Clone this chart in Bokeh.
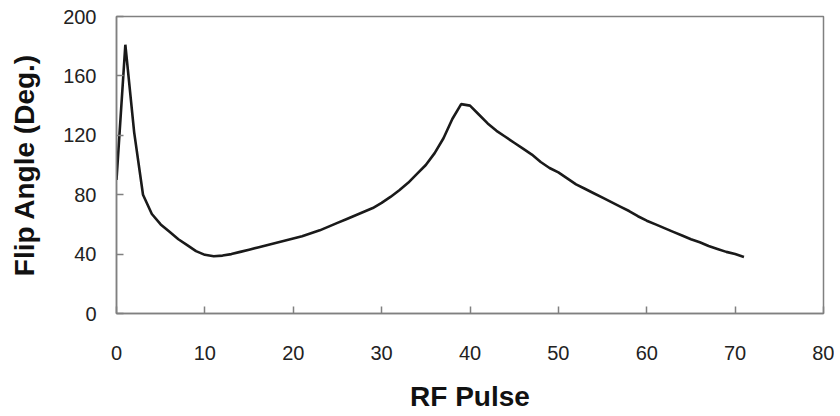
from bokeh.plotting import figure
from bokeh.models import Range1d, FixedTicker
from bokeh.embed import file_html
from bokeh.resources import INLINE

# RF pulse number
pulse = list(range(0, 72))
# Flip angle in degrees
flip_angle = [
    90, 181, 122, 80, 67, 60, 55, 50, 46, 42,
    39.5, 38.5, 39, 40, 41.5, 43, 44.5, 46, 47.5, 49,
    50.5, 52, 54, 56, 58.5, 61, 63.5, 66, 68.5, 71,
    74.5, 78.5, 83, 88, 94, 100, 108, 118, 131, 141,
    140, 134, 128, 123, 119, 115, 111, 107, 102, 98,
    95, 91, 87, 84, 81, 78, 75, 72, 69, 65.5,
    62.5, 60, 57.5, 55, 52.5, 50, 48, 45.5, 43.5, 41.5,
    40, 38,
]
x_ticks = [0, 10, 20, 30, 40, 50, 60, 70, 80]
y_ticks = [0, 40, 80, 120, 160, 200]

p = figure(width=834, height=415, output_backend="svg", toolbar_location=None,
           x_range=Range1d(0, 80), y_range=Range1d(0, 200),
           min_border_left=116, min_border_right=11, min_border_top=16,
           min_border_bottom=102)

p.line(pulse, flip_angle, line_color="#1a1a1a", line_width=2.6)

p.xgrid.visible = False
p.ygrid.visible = False
p.outline_line_color = "#808080"
p.outline_line_width = 1.5
p.background_fill_color = "white"
p.border_fill_color = "white"

for ax in (p.xaxis[0], p.yaxis[0]):
    ax.axis_line_color = "#808080"
    ax.axis_line_width = 1.5
    ax.major_tick_line_color = "#808080"
    ax.major_tick_line_width = 1.5
    ax.major_tick_out = 0
    ax.major_tick_in = 7
    ax.minor_tick_line_color = None
    ax.major_label_text_font = "Liberation Sans"
    ax.major_label_text_font_size = "20px"
    ax.major_label_text_color = "#222222"
    ax.axis_label_text_font = "Liberation Sans"
    ax.axis_label_text_font_size = "28px"
    ax.axis_label_text_font_style = "bold"
    ax.axis_label_text_color = "#111111"

p.xaxis.ticker = FixedTicker(ticks=x_ticks)
p.yaxis.ticker = FixedTicker(ticks=y_ticks)
p.xaxis.axis_label = "RF Pulse"
p.yaxis.axis_label = "Flip Angle (Deg.)"
p.xaxis.major_label_standoff = 32
p.xaxis.axis_label_standoff = 18
p.yaxis.major_label_standoff = 20
p.yaxis.axis_label_standoff = 20

open("out.html", "w").write(file_html(p, INLINE))
